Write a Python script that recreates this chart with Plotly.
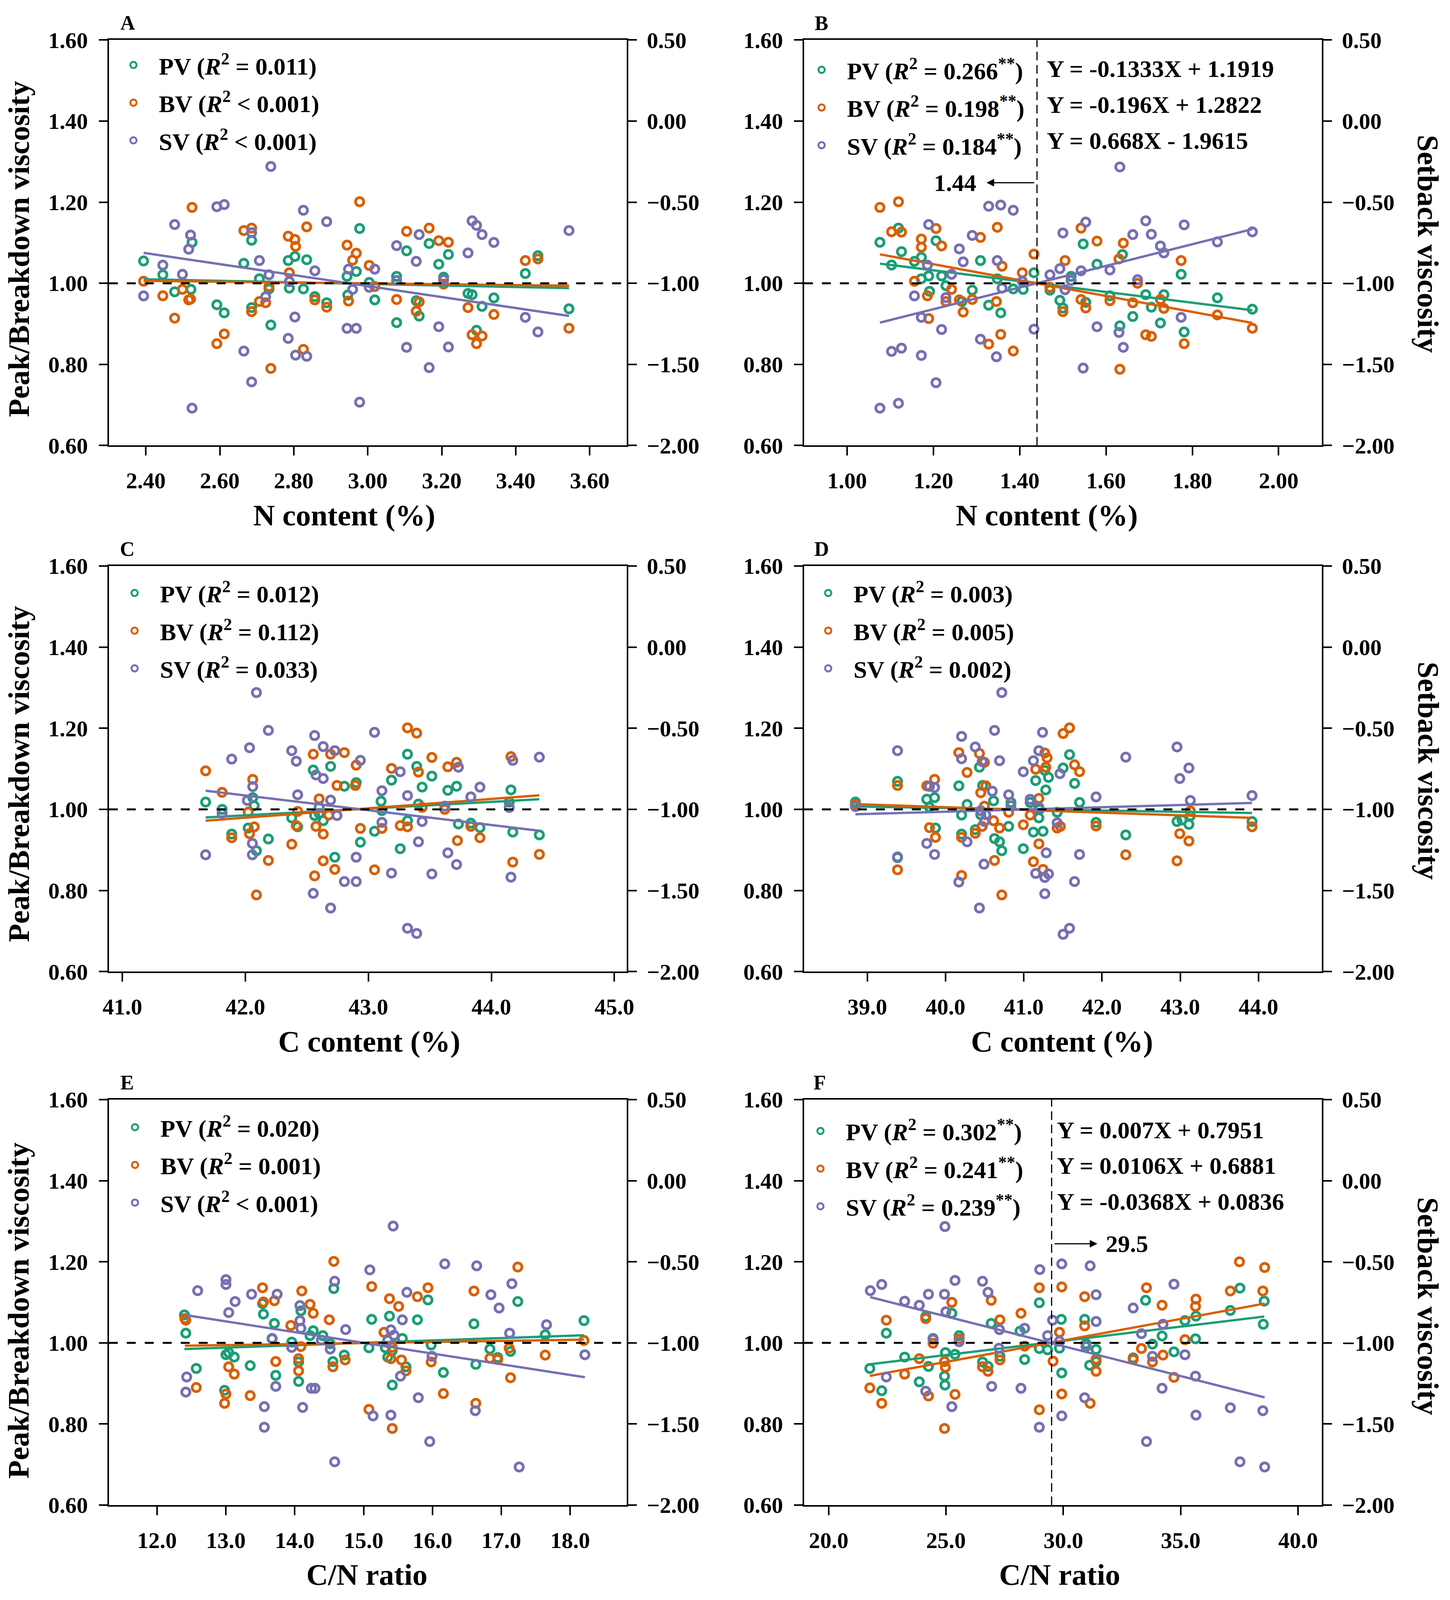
import plotly.graph_objects as go
from plotly.subplots import make_subplots

W, H = 3711, 4244
FONT = "Liberation Serif"
COLORS = {"PV": "#1b9e77", "BV": "#d95f02", "SV": "#7570b3"}

# ---- data: (x, y) pairs per series; SV in setback (right axis) units ----
A_PV = [(2.394, 1.055), (2.446, 1.021), (2.478, 0.979), (2.525, 1.101), (2.522, 0.985), (2.592, 0.947),
        (2.612, 0.927), (2.665, 1.049), (2.686, 1.106), (2.686, 0.94), (2.707, 1.011), (2.733, 0.986),
        (2.738, 0.897), (2.785, 1.056), (2.803, 1.066), (2.788, 0.988), (2.826, 0.986), (2.835, 1.058),
        (2.857, 0.967), (2.889, 0.952), (2.944, 1.017), (2.946, 0.971), (2.969, 1.029), (2.978, 1.135),
        (3.004, 1.002), (3.019, 0.959), (3.078, 1.017), (3.078, 0.903), (3.105, 1.08), (3.131, 0.957),
        (3.139, 0.919), (3.166, 1.098), (3.192, 1.047), (3.205, 1.015), (3.218, 1.071), (3.271, 0.975),
        (3.282, 0.972), (3.294, 0.884), (3.309, 0.943), (3.341, 0.964), (3.426, 1.024), (3.46, 1.068),
        (3.544, 0.937)]
A_BV = [(2.394, 1.005), (2.446, 0.969), (2.478, 0.914), (2.499, 0.985), (2.516, 0.959), (2.521, 0.961),
        (2.525, 1.187), (2.592, 0.851), (2.612, 0.875), (2.665, 1.13), (2.686, 1.136), (2.686, 0.93),
        (2.707, 0.955), (2.724, 0.952), (2.733, 0.992), (2.738, 0.79), (2.785, 1.116), (2.788, 1.026),
        (2.803, 1.108), (2.805, 1.091), (2.826, 0.837), (2.835, 1.139), (2.857, 0.959), (2.889, 0.941),
        (2.944, 1.094), (2.948, 0.956), (2.959, 1.057), (2.969, 1.074), (2.978, 1.201), (3.004, 1.044),
        (3.019, 0.992), (3.078, 0.96), (3.105, 1.128), (3.131, 0.931), (3.139, 0.954), (3.166, 1.136),
        (3.192, 1.105), (3.205, 0.998), (3.218, 1.101), (3.271, 0.94), (3.282, 0.873), (3.294, 0.851),
        (3.309, 0.87), (3.341, 0.923), (3.426, 1.056), (3.46, 1.06), (3.544, 0.889)]
A_SV = [(2.394, -1.078), (2.446, -0.888), (2.478, -0.638), (2.499, -0.945), (2.516, -0.79), (2.521, -0.703),
        (2.525, -1.77), (2.592, -0.528), (2.612, -0.515), (2.665, -1.418), (2.686, -0.688), (2.686, -1.608),
        (2.707, -0.86), (2.724, -1.083), (2.733, -0.948), (2.738, -0.28), (2.785, -1.34), (2.788, -0.99),
        (2.803, -1.208), (2.805, -1.443), (2.826, -0.55), (2.835, -1.45), (2.857, -0.923), (2.889, -0.62),
        (2.944, -1.278), (2.948, -0.913), (2.959, -1.038), (2.969, -1.278), (2.978, -1.733), (3.004, -1.025),
        (3.019, -0.913), (3.078, -0.983), (3.078, -0.768), (3.105, -1.395), (3.131, -0.865), (3.139, -0.70),
        (3.166, -1.52), (3.192, -1.268), (3.205, -0.978), (3.218, -1.393), (3.271, -0.813), (3.282, -0.615),
        (3.294, -0.643), (3.309, -0.70), (3.341, -0.748), (3.426, -1.21), (3.46, -1.30), (3.544, -0.675)]

B_PV = [(1.076, 1.101), (1.103, 1.045), (1.119, 1.136), (1.126, 1.078), (1.156, 1.054), (1.172, 1.064),
        (1.172, 1.011), (1.189, 1.018), (1.191, 0.980), (1.206, 1.105), (1.219, 1.018), (1.229, 0.994),
        (1.266, 0.955), (1.290, 0.983), (1.309, 1.056), (1.328, 0.946), (1.348, 1.011), (1.356, 0.927),
        (1.385, 0.986), (1.408, 0.985), (1.433, 1.026), (1.470, 0.983), (1.493, 0.958), (1.500, 0.939),
        (1.519, 1.017), (1.547, 1.097), (1.553, 0.953), (1.579, 1.047), (1.609, 0.969), (1.632, 0.895),
        (1.638, 1.071), (1.662, 0.918), (1.692, 0.972), (1.705, 0.941), (1.726, 0.902), (1.734, 0.972),
        (1.774, 1.022), (1.781, 0.880), (1.858, 0.964), (1.939, 0.936)]
B_BV = [(1.076, 1.187), (1.103, 1.127), (1.119, 1.201), (1.126, 1.126), (1.156, 1.005), (1.172, 1.109),
        (1.172, 1.089), (1.189, 0.913), (1.186, 0.969), (1.206, 1.135), (1.219, 1.092), (1.229, 0.955),
        (1.242, 0.985), (1.260, 0.959), (1.269, 0.929), (1.290, 0.96), (1.309, 1.113), (1.328, 0.850),
        (1.348, 1.138), (1.346, 0.955), (1.356, 0.874), (1.359, 1.042), (1.385, 0.833), (1.406, 1.026),
        (1.433, 1.072), (1.470, 0.990), (1.500, 0.930), (1.505, 1.056), (1.542, 1.136), (1.542, 0.960),
        (1.553, 0.939), (1.579, 1.104), (1.609, 0.957), (1.632, 0.788), (1.630, 1.060), (1.640, 1.099),
        (1.662, 0.952), (1.673, 1.000), (1.692, 0.873), (1.705, 0.869), (1.726, 0.960), (1.734, 0.938),
        (1.774, 1.056), (1.781, 0.851), (1.858, 0.922), (1.939, 0.889)]
B_SV = [(1.076, -1.77), (1.103, -1.42), (1.119, -1.74), (1.126, -1.40), (1.156, -1.078), (1.172, -1.21),
        (1.172, -1.445), (1.189, -0.638), (1.186, -0.888), (1.206, -1.613), (1.219, -1.285), (1.229, -1.088),
        (1.242, -0.945), (1.260, -0.788), (1.269, -0.868), (1.290, -0.705), (1.309, -1.345), (1.328, -0.525),
        (1.348, -0.86), (1.346, -1.453), (1.356, -0.518), (1.359, -1.03), (1.385, -0.55), (1.406, -0.988),
        (1.433, -1.283), (1.470, -0.948), (1.493, -0.91), (1.500, -0.69), (1.505, -1.04), (1.519, -0.983),
        (1.542, -0.923), (1.547, -1.523), (1.553, -0.623), (1.579, -1.268), (1.609, -0.918), (1.632, -0.283),
        (1.630, -1.303), (1.640, -1.395), (1.662, -0.70), (1.673, -0.978), (1.692, -0.615), (1.705, -0.698),
        (1.726, -0.77), (1.734, -0.813), (1.774, -1.21), (1.781, -0.64), (1.858, -0.745), (1.939, -0.683)]

C_PV = [(41.677, 1.018), (41.811, 1.000), (41.889, 0.939), (42.023, 0.954), (42.060, 1.029), (42.072, 1.009),
        (42.090, 0.898), (42.187, 0.927), (42.377, 0.979), (42.425, 0.957), (42.552, 1.097), (42.563, 0.985),
        (42.600, 0.990), (42.633, 0.972), (42.693, 1.106), (42.727, 0.882), (42.805, 1.057), (42.901, 1.066),
        (42.935, 0.919), (43.050, 0.946), (43.103, 1.020), (43.110, 0.997), (43.188, 1.072), (43.259, 0.903),
        (43.318, 1.136), (43.318, 0.972), (43.393, 1.106), (43.407, 1.013), (43.437, 1.055), (43.516, 1.082),
        (43.646, 1.047), (43.717, 1.057), (43.732, 0.964), (43.833, 0.966), (43.907, 0.955), (44.145, 1.018),
        (44.159, 1.048), (44.174, 0.944), (44.390, 0.937)]
C_BV = [(41.677, 1.095), (41.811, 1.042), (41.889, 0.930), (42.023, 0.993), (42.034, 0.940), (42.060, 1.074),
        (42.072, 0.957), (42.090, 0.789), (42.187, 0.874), (42.377, 0.914), (42.425, 0.995), (42.414, 0.960),
        (42.552, 1.136), (42.563, 0.836), (42.574, 0.958), (42.600, 1.026), (42.633, 0.939), (42.633, 0.873),
        (42.693, 1.136), (42.678, 0.986), (42.727, 0.852), (42.745, 1.059), (42.805, 1.140), (42.901, 1.109),
        (42.894, 1.059), (42.935, 0.953), (43.050, 0.851), (43.110, 0.953), (43.188, 1.101), (43.259, 0.960),
        (43.318, 1.201), (43.318, 0.957), (43.393, 1.188), (43.407, 1.092), (43.437, 1.005), (43.516, 1.128),
        (43.621, 1.000), (43.646, 1.105), (43.717, 1.116), (43.724, 0.923), (43.833, 0.958), (43.907, 0.930),
        (44.159, 1.130), (44.174, 0.870), (44.390, 0.889)]
C_SV = [(41.677, -1.28), (41.811, -1.025), (41.889, -0.69), (42.034, -0.62), (42.016, -0.945), (42.060, -0.86),
        (42.057, -1.21), (42.057, -1.28), (42.090, -0.28), (42.187, -0.513), (42.377, -0.638), (42.414, -0.703),
        (42.425, -0.91), (42.552, -1.518), (42.563, -0.545), (42.574, -0.788), (42.600, -0.985), (42.633, -0.613),
        (42.633, -0.81), (42.693, -1.608), (42.693, -0.943), (42.727, -0.638), (42.745, -1.038), (42.805, -1.445),
        (42.901, -1.445), (42.901, -1.295), (42.935, -0.698), (43.050, -0.525), (43.110, -0.885), (43.110, -1.08),
        (43.188, -1.393), (43.259, -0.768), (43.318, -0.915), (43.318, -1.733), (43.393, -1.765), (43.407, -1.20),
        (43.437, -1.075), (43.516, -1.398), (43.646, -1.268), (43.717, -1.34), (43.732, -0.74), (43.621, -0.98),
        (43.833, -0.923), (43.907, -0.863), (44.145, -0.988), (44.159, -1.418), (44.174, -0.698), (44.390, -0.678)]

D_PV = [(38.848, 1.018), (39.386, 1.069), (39.386, 0.881), (39.760, 1.025), (39.795, 1.005), (39.860, 1.029),
        (39.871, 0.954), (40.170, 1.058), (40.205, 0.986), (40.205, 0.939), (40.275, 1.012), (40.380, 0.950),
        (40.433, 1.104), (40.450, 0.987), (40.474, 1.059), (40.614, 1.021), (40.626, 0.928), (40.690, 0.920),
        (40.719, 0.898), (40.807, 0.958), (40.836, 1.017), (40.994, 0.903), (41.082, 1.017), (41.123, 0.944),
        (41.152, 1.071), (41.193, 0.979), (41.199, 1.000), (41.246, 0.946), (41.281, 1.048), (41.316, 1.079),
        (41.269, 1.096), (41.427, 0.993), (41.503, 1.102), (41.585, 1.135), (41.649, 1.064), (41.713, 1.017),
        (41.924, 0.968), (42.304, 0.937), (42.959, 0.970), (43.023, 0.974), (43.111, 0.963), (43.129, 0.984),
        (43.918, 0.970)]
D_BV = [(38.848, 1.012), (39.386, 1.059), (39.386, 0.851), (39.760, 1.058), (39.795, 0.955), (39.860, 1.074),
        (39.871, 0.931), (40.170, 1.140), (40.205, 0.837), (40.205, 0.931), (40.275, 1.091), (40.380, 0.941),
        (40.433, 1.138), (40.450, 1.041), (40.497, 1.116), (40.497, 1.008), (40.515, 1.058), (40.468, 0.958),
        (40.626, 0.874), (40.614, 0.972), (40.690, 0.954), (40.719, 0.789), (40.807, 0.993), (40.994, 0.962),
        (41.082, 0.986), (41.123, 0.871), (41.152, 1.099), (41.193, 1.027), (41.193, 0.915), (41.246, 0.852),
        (41.269, 1.139), (41.298, 1.127), (41.281, 1.104), (41.427, 0.954), (41.468, 0.958), (41.503, 1.187),
        (41.585, 1.201), (41.649, 1.110), (41.713, 1.093), (41.924, 0.959), (42.304, 0.888), (42.959, 0.873),
        (42.994, 0.940), (43.111, 0.922), (43.129, 0.996), (43.918, 0.957)]
D_SV = [(38.848, -0.983), (39.386, -0.638), (39.386, -1.293), (39.760, -1.21), (39.795, -0.858), (39.860, -0.865),
        (39.860, -1.278), (40.170, -1.448), (40.205, -0.55), (40.205, -0.688), (40.275, -1.20), (40.380, -0.615),
        (40.433, -1.608), (40.468, -0.705), (40.491, -1.338), (40.450, -1.008), (40.497, -1.075), (40.515, -1.033),
        (40.597, -0.888), (40.626, -0.513), (40.690, -0.70), (40.719, -0.28), (40.807, -0.91), (40.836, -0.978),
        (40.994, -0.768), (41.082, -0.938), (41.123, -0.70), (41.152, -1.395), (41.193, -0.638), (41.193, -0.988),
        (41.240, -0.525), (41.269, -1.52), (41.269, -1.42), (41.287, -1.268), (41.316, -1.398), (41.427, -1.083),
        (41.462, -0.78), (41.503, -1.77), (41.585, -1.733), (41.649, -1.445), (41.713, -1.278), (41.924, -0.923),
        (42.304, -0.678), (42.959, -0.615), (42.994, -0.81), (43.111, -0.745), (43.129, -0.945), (43.918, -0.915)]

E_PV = [(12.398, 1.069), (12.418, 1.024), (12.570, 0.937), (12.981, 0.883), (13.001, 0.971), (13.041, 0.976),
        (13.121, 0.965), (13.353, 0.944), (13.532, 1.097), (13.545, 1.071), (13.704, 1.048), (13.671, 1.011),
        (13.724, 0.920), (13.956, 1.002), (14.056, 0.905), (14.056, 0.953), (14.089, 1.079), (14.222, 1.018),
        (14.268, 1.030), (14.408, 1.018), (14.514, 0.998), (14.554, 0.954), (14.567, 1.134), (14.719, 0.970),
        (15.077, 0.988), (15.117, 1.058), (15.316, 0.988), (15.376, 1.066), (15.350, 0.965), (15.416, 0.896),
        (15.416, 0.981), (15.562, 1.011), (15.615, 0.941), (15.781, 1.057), (15.934, 1.106), (15.981, 0.995),
        (16.158, 0.927), (16.602, 1.047), (16.629, 0.947), (16.834, 0.985), (16.947, 0.964), (17.133, 0.979),
        (17.239, 1.102), (17.637, 1.020), (18.200, 1.055)]
E_BV = [(12.405, 1.060), (12.418, 1.056), (12.570, 0.890), (12.981, 0.851), (13.001, 0.874), (13.041, 0.941),
        (13.121, 0.923), (13.353, 0.870), (13.532, 1.136), (13.545, 1.101), (13.704, 1.104), (13.724, 0.954),
        (13.943, 1.043), (14.056, 0.961), (14.056, 0.931), (14.102, 1.128), (14.089, 0.991), (14.222, 1.095),
        (14.268, 1.073), (14.501, 1.057), (14.567, 1.201), (14.554, 0.941), (14.732, 0.958), (15.077, 0.836),
        (15.117, 1.139), (15.296, 1.026), (15.376, 1.109), (15.396, 0.961), (15.416, 0.789), (15.416, 0.989),
        (15.509, 1.090), (15.549, 0.958), (15.615, 0.931), (15.781, 1.114), (15.934, 1.136), (15.981, 0.953),
        (16.158, 0.875), (16.602, 1.128), (16.629, 0.851), (16.834, 0.962), (16.947, 0.959), (17.113, 0.987),
        (17.133, 0.914), (17.239, 1.187), (17.637, 0.970), (18.200, 1.006)]
E_SV = [(12.418, -1.303), (12.431, -1.21), (12.590, -0.678), (13.001, -0.61), (13.001, -0.64), (13.041, -0.813),
        (13.134, -0.745), (13.373, -0.70), (13.558, -1.393), (13.558, -1.52), (13.671, -0.975), (13.724, -1.268),
        (13.744, -0.70), (13.956, -1.028), (14.075, -0.77), (14.075, -0.863), (14.089, -0.91), (14.115, -1.398),
        (14.241, -1.28), (14.294, -1.28), (14.387, -0.983), (14.514, -1.038), (14.580, -0.62), (14.580, -1.733),
        (14.739, -0.918), (15.090, -0.55), (15.137, -1.45), (15.350, -0.985), (15.396, -0.92), (15.429, -0.28),
        (15.396, -1.445), (15.442, -0.953), (15.535, -1.205), (15.562, -0.858), (15.628, -0.688), (15.794, -1.338),
        (15.960, -1.608), (15.993, -1.083), (16.178, -0.513), (16.622, -1.418), (16.642, -0.525), (16.848, -0.703),
        (16.967, -0.785), (17.120, -0.94), (17.153, -0.635), (17.259, -1.765), (17.656, -0.888), (18.213, -1.073)]

F_PV = [(21.756, 0.937), (22.263, 0.882), (22.459, 1.024), (23.239, 0.965), (23.863, 0.904), (24.137, 1.065),
        (24.254, 0.942), (24.449, 1.011), (24.937, 0.918), (24.956, 0.896), (24.976, 0.976), (25.249, 1.073),
        (25.385, 0.972), (25.561, 1.018), (26.556, 0.953), (26.790, 0.942), (26.927, 1.048), (27.298, 0.967),
        (28.156, 1.029), (28.351, 0.959), (28.976, 1.099), (28.976, 0.986), (29.327, 0.983), (29.834, 0.987),
        (29.912, 1.058), (29.932, 0.926), (30.907, 1.058), (30.966, 0.998), (31.122, 0.945), (31.395, 0.984),
        (31.395, 0.954), (32.976, 0.963), (33.502, 1.105), (33.795, 0.997), (34.205, 1.017), (34.712, 0.978),
        (35.180, 1.055), (35.629, 1.010), (35.649, 1.066), (37.112, 1.080), (37.522, 1.135), (38.556, 1.103),
        (38.517, 1.046)]
F_BV = [(21.756, 0.889), (22.263, 0.851), (22.459, 1.056), (23.239, 0.923), (23.863, 0.961), (24.137, 1.060),
        (24.254, 0.869), (24.449, 0.999), (24.937, 0.789), (24.937, 0.954), (24.976, 0.940), (25.249, 1.100),
        (25.385, 0.873), (25.561, 1.010), (26.556, 0.941), (26.790, 0.930), (26.927, 1.105), (27.298, 1.057),
        (27.298, 0.958), (28.195, 1.073), (28.351, 0.992), (28.976, 1.136), (28.976, 0.835), (29.561, 0.955),
        (29.834, 1.026), (29.932, 1.138), (29.932, 0.874), (30.907, 1.114), (30.907, 1.042), (31.141, 0.851),
        (31.395, 0.960), (31.395, 0.930), (32.976, 0.959), (33.327, 0.986), (33.541, 1.136), (33.795, 0.953),
        (34.205, 1.093), (34.244, 0.970), (34.712, 0.915), (35.180, 1.008), (35.629, 1.090), (35.649, 1.108),
        (37.112, 1.128), (37.502, 1.200), (38.498, 1.128), (38.576, 1.186)]
F_SV = [(21.776, -0.678), (22.263, -0.64), (22.459, -1.21), (23.239, -0.743), (23.863, -0.768), (24.137, -1.298),
        (24.254, -0.70), (24.449, -0.978), (24.937, -0.70), (24.956, -0.283), (24.995, -0.808), (25.249, -1.393),
        (25.385, -0.615), (25.561, -0.993), (26.556, -0.62), (26.790, -0.688), (26.946, -1.268), (27.259, -1.033),
        (27.278, -0.918), (28.195, -1.28), (28.351, -0.91), (28.995, -0.548), (28.976, -1.52), (29.327, -0.955),
        (29.541, -0.86), (29.834, -0.99), (29.932, -0.513), (29.932, -1.45), (30.907, -1.338), (30.966, -1.023),
        (31.141, -0.525), (31.395, -0.703), (31.395, -0.868), (32.976, -0.785), (33.327, -0.943), (33.541, -1.608),
        (33.795, -1.083), (34.205, -1.28), (34.244, -0.885), (34.712, -0.638), (35.180, -1.073), (35.629, -1.205),
        (35.649, -1.445), (37.112, -1.40), (37.522, -1.733), (38.498, -1.418), (38.576, -1.765)]

# regression lines (slope, intercept) for PV, BV, SV
A_FIT = [(-0.0191, 1.0557), (-0.0104, 1.0309), (-0.338, -0.0033)]
B_FIT = [(-0.1333, 1.1919), (-0.196, 1.2822), (0.668, -1.9615)]
C_FIT = [(0.01657, 0.2894), (0.02314, 0.0076), (-0.0911, 2.912)]
D_FIT = [(-0.00315, 1.1294), (-0.00669, 1.2729), (0.01377, -1.565)]
E_FIT = [(0.00586, 0.9123), (0.00259, 0.9609), (-0.0661, -0.008)]
F_FIT = [(0.007, 0.7951), (0.0106, 0.6881), (-0.0368, 0.0836)]

# R2 labels
A_R2 = ["= 0.011", "&lt; 0.001", "&lt; 0.001"]
B_R2 = ["= 0.266<sup>**</sup>", "= 0.198<sup>**</sup>", "= 0.184<sup>**</sup>"]
C_R2 = ["= 0.012", "= 0.112", "= 0.033"]
D_R2 = ["= 0.003", "= 0.005", "= 0.002"]
E_R2 = ["= 0.020", "= 0.001", "&lt; 0.001"]
F_R2 = ["= 0.302<sup>**</sup>", "= 0.241<sup>**</sup>", "= 0.239<sup>**</sup>"]

B_EQ = ["Y = -0.1333X + 1.1919", "Y = -0.196X + 1.2822", "Y = 0.668X - 1.9615"]
F_EQ = ["Y = 0.007X + 0.7951", "Y = 0.0106X + 0.6881", "Y = -0.0368X + 0.0836"]

REF_Y = 1.00
B_SPLIT = 1.44
F_SPLIT = 29.5

X_TITLES = ["N content (%)", "N content (%)", "C content (%)", "C content (%)", "C/N ratio", "C/N ratio"]
X_RANGES = [[2.30, 3.70], [0.90, 2.10], [40.89, 45.10], [38.19, 44.81], [11.30, 18.82], [18.95, 41.01]]
X_TICK0 = [2.4, 1.0, 41.0, 39.0, 12.0, 20.0]
X_DTICK = [0.2, 0.2, 1.0, 1.0, 1.0, 5.0]
X_FMT = [".2f", ".2f", ".1f", ".1f", ".1f", ".1f"]
LETTERS = ["A", "B", "C", "D", "E", "F"]

# ---- layout geometry (pixels of the 3711 x 4244 reference) ----
COL_X = [(265, 1603), (2061, 3399)]
ROW_Y = [(74, 1167), (1492, 2585), (2930, 4023)]
LEG_POS = [(328, 139), (2106, 152), (331, 1562), (2123, 1562), (332, 3002), (2103, 3012)]
XT_POS = [(873, 1355), (2688, 1355), (938, 2773), (2728, 2773), (932, 4210), (2722, 4210)]
LET_POS = [(314, 28), (2106, 29), (313, 1446), (2107, 1446), (312, 2884), (2102, 2884)]
ROW_PITCH = 96.5
LEG_FONT = 62
ITEM_W = 120


def px(x):
    return x / W


def py(y):
    return 1 - y / H


def bold(size):
    return dict(family=FONT, size=size, color="black", weight="bold")


fig = make_subplots(rows=3, cols=2, specs=[[{"secondary_y": True}] * 2 for _ in range(3)])

panels = [
    (A_PV, A_BV, A_SV, A_FIT, A_R2),
    (B_PV, B_BV, B_SV, B_FIT, B_R2),
    (C_PV, C_BV, C_SV, C_FIT, C_R2),
    (D_PV, D_BV, D_SV, D_FIT, D_R2),
    (E_PV, E_BV, E_SV, E_FIT, E_R2),
    (F_PV, F_BV, F_SV, F_FIT, F_R2),
]

axis_common = dict(showline=True, linewidth=4, linecolor="black", ticks="outside", ticklen=22,
                   tickwidth=4, tickcolor="black", showgrid=False, zeroline=False, tickfont=bold(58))

annotations = []
layout_legends = {}
centre = (ITEM_W + 10) / 2  # legend symbol centre offset from legend's left edge

for i, (pv, bv, sv, fit, r2) in enumerate(panels):
    row, col = i // 2 + 1, i % 2 + 1
    leg = "legend" if i == 0 else f"legend{i + 1}"
    series = [("PV", pv), ("BV", bv), ("SV", sv)]
    for k, (name, pts) in enumerate(series):
        fig.add_trace(go.Scatter(
            x=[p[0] for p in pts], y=[p[1] for p in pts], mode="markers",
            name=f"{name} (<i>R</i><sup>2</sup> {r2[k]})",
            legend=leg, legendgroup=f"{leg}-{name}",
            marker=dict(symbol="circle-open", size=21, color=COLORS[name],
                        line=dict(width=7, color=COLORS[name])),
        ), row=row, col=col, secondary_y=(name == "SV"))
    for k, (name, pts) in enumerate(series):
        xs = [p[0] for p in pts]
        slope, inter = fit[k]
        lx = [min(xs), max(xs)]
        fig.add_trace(go.Scatter(
            x=lx, y=[slope * v + inter for v in lx], mode="lines",
            line=dict(color=COLORS[name], width=6), showlegend=False, hoverinfo="skip",
        ), row=row, col=col, secondary_y=(name == "SV"))

    x0, x1 = COL_X[col - 1]
    y0, y1 = ROW_Y[row - 1]
    fig.update_xaxes(domain=[px(x0), px(x1)], range=X_RANGES[i], tick0=X_TICK0[i], dtick=X_DTICK[i],
                     tickformat=X_FMT[i], mirror=True, ticklabelstandoff=14, **axis_common,
                     row=row, col=col)
    fig.update_yaxes(domain=[py(y1), py(y0)], range=[0.6, 1.6], tick0=0.6, dtick=0.2, tickformat=".2f",
                     ticklabelstandoff=16, **axis_common, row=row, col=col, secondary_y=False)
    fig.update_yaxes(range=[-2.0, 0.5], tick0=-2.0, dtick=0.5, tickformat=".2f", side="right",
                     ticklabelstandoff=14, **axis_common, row=row, col=col, secondary_y=True)

    fig.add_hline(y=REF_Y, line=dict(color="black", width=5, dash="23px,23px"), row=row, col=col,
                  secondary_y=False)

    lx_, ly_ = LEG_POS[i]
    h_item = LEG_FONT * 1.3 + 3
    layout_legends[leg] = dict(x=px(lx_ - centre), y=py(ly_ - 5 - h_item / 2), xanchor="left",
                               yanchor="top", bgcolor="rgba(0,0,0,0)", font=bold(LEG_FONT),
                               itemwidth=ITEM_W, traceorder="grouped",
                               tracegroupgap=ROW_PITCH - h_item)

    tx, ty = XT_POS[i]
    annotations.append(dict(text=X_TITLES[i], x=px(tx), y=py(ty), xref="paper", yref="paper",
                            showarrow=False, font=bold(77), xanchor="center", yanchor="middle"))
    ltx, lty = LET_POS[i]
    annotations.append(dict(text=LETTERS[i], x=px(ltx), y=py(lty), xref="paper", yref="paper",
                            showarrow=False, font=bold(52), xanchor="center", yanchor="middle"))

# left / right axis titles
for cy in (637, 2052, 3498):
    annotations.append(dict(text="Peak/Breakdown viscosity", x=px(32), y=py(cy), xref="paper", yref="paper",
                            showarrow=False, textangle=-90, font=bold(77), xanchor="center", yanchor="middle"))
for cy in (624, 2044, 3487):
    annotations.append(dict(text="Setback viscosity", x=px(3674), y=py(cy), xref="paper", yref="paper",
                            showarrow=False, textangle=90, font=bold(77), xanchor="center", yanchor="middle"))

# equations and split markers on B and F
for j in range(3):
    annotations.append(dict(text=B_EQ[j], x=1.461, xref="x2", y=py(152 + j * ROW_PITCH), yref="paper",
                            showarrow=False, font=bold(LEG_FONT), xanchor="left", yanchor="middle"))
    annotations.append(dict(text=F_EQ[j], x=29.7, xref="x6", y=py(3012 + j * ROW_PITCH), yref="paper",
                            showarrow=False, font=bold(LEG_FONT), xanchor="left", yanchor="middle"))

fig.add_vline(x=B_SPLIT, line=dict(color="black", width=3, dash="22px,12px"), row=1, col=2)
fig.add_vline(x=F_SPLIT, line=dict(color="black", width=3, dash="22px,12px"), row=3, col=2)

annotations += [
    dict(x=1.323, y=1.248, xref="x2", yref="y3", ax=B_SPLIT - 0.005, ay=1.248, axref="x2", ayref="y3",
         text="", showarrow=True, arrowhead=2, arrowsize=1.3, arrowwidth=3, arrowcolor="black"),
    dict(x=1.2505, y=1.248, xref="x2", yref="y3", text=f"{B_SPLIT:.2f}", showarrow=False,
         font=bold(LEG_FONT)),
    dict(x=31.45, y=1.2445, xref="x6", yref="y11", ax=F_SPLIT + 0.1, ay=1.2445, axref="x6", ayref="y11",
         text="", showarrow=True, arrowhead=2, arrowsize=1.3, arrowwidth=3, arrowcolor="black"),
    dict(x=32.72, y=1.2445, xref="x6", yref="y11", text=f"{F_SPLIT:.1f}", showarrow=False,
         font=bold(LEG_FONT)),
]

fig.update_layout(
    width=W, height=H, margin=dict(l=0, r=0, t=0, b=0),
    plot_bgcolor="white", paper_bgcolor="white",
    font=dict(family=FONT, color="black"),
    annotations=list(fig.layout.annotations) + annotations,
    showlegend=True,
    **layout_legends,
)

# fit the figure to the visible window (no body margin, no scrollbars)
fit_js = ("document.body.style.margin='0';document.body.style.overflow='hidden';"
          "var gd=document.getElementById('{plot_id}');"
          "Plotly.relayout(gd,{width:window.innerWidth,height:window.innerHeight});")

fig.write_html("out.html", post_script=fit_js, config={"displayModeBar": False})
